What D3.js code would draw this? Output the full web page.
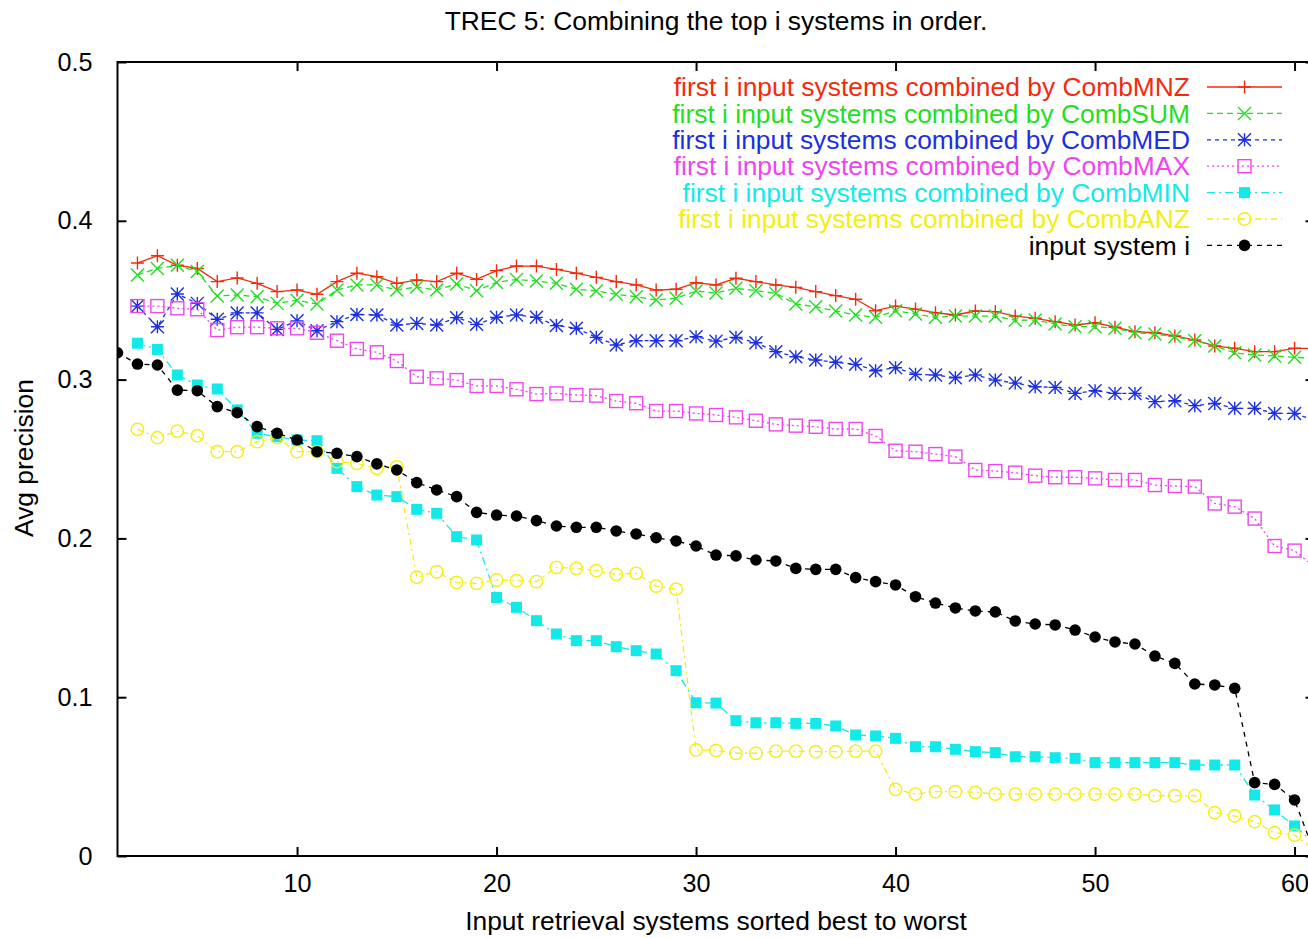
<!DOCTYPE html>
<html>
<head>
<meta charset="utf-8">
<script src="https://cdn.jsdelivr.net/npm/d3@7/dist/d3.min.js"></script>
<style>
  html, body { margin: 0; padding: 0; background: #fff; }
  svg { display: block; }
  text { font-family: "Liberation Sans", Arial, sans-serif; }
</style>
</head>
<body>
<svg id="chart" width="1308" height="938"></svg>
<script>
// ---- data ----
const title = "TREC 5: Combining the top i systems in order.";
const xLabel = "Input retrieval systems sorted best to worst";
const yLabel = "Avg precision";
const xTicks = [10, 20, 30, 40, 50, 60];
const yTicks = [0, 0.1, 0.2, 0.3, 0.4, 0.5];

// combined series start at i = 2, input system series at i = 1
const combStart = 2;
const inputStart = 1;

const combMNZ = [.3734,.378,.372,.370,.3617,.364,.3606,.3554,.3564,.3537,.3617,.367,.3648,.3606,.3627,.3617,.367,.3631,.3686,.3715,.3715,.3694,.367,.3644,.3617,.3596,.3564,.3569,.361,.3596,.3638,.3617,.3596,.3581,.3554,.3529,.3506,.3434,.3463,.3444,.3421,.3407,.3432,.3428,.34,.3386,.3365,.3344,.3358,.333,.3302,.3295,.3275,.3249,.3212,.3197,.3176,.3176,.3197,.3197];
const combSUM = [.3659,.370,.372,.368,.3526,.3533,.3522,.348,.350,.3476,.3564,.3596,.3596,.3564,.3583,.3564,.3602,.356,.3612,.3631,.3621,.3606,.3569,.3558,.3537,.3522,.3501,.3512,.3558,.3545,.3575,.356,.3543,.3476,.3459,.3432,.3407,.3392,.3434,.3413,.3392,.34,.34,.34,.3373,.3375,.335,.3333,.3333,.3323,.3295,.3287,.327,.3245,.3212,.3169,.3155,.3149,.314,.3135];
const combMED = [.3463,.3333,.3539,.348,.338,.342,.342,.3316,.337,.3308,.3365,.341,.3407,.3344,.3354,.3344,.339,.3348,.3392,.3407,.3392,.334,.3323,.3266,.3218,.3245,.3245,.3245,.327,.3242,.3266,.3232,.3176,.3144,.3123,.3109,.3096,.3056,.3075,.3033,.3029,.3012,.3029,.2997,.2978,.2955,.2951,.2913,.293,.2913,.2913,.2861,.2867,.2836,.285,.2819,.2819,.2787,.2787,.2745];
const combMAX = [.3463,.3463,.3449,.3443,.3312,.333,.333,.3323,.3323,.3295,.3245,.3193,.3172,.3117,.3018,.3008,.2997,.296,.296,.2939,.2909,.2913,.2903,.2899,.2865,.2851,.2802,.2802,.2787,.2777,.2762,.2741,.2718,.271,.2703,.2689,.2689,.2645,.2552,.2546,.2531,.2515,.2431,.2424,.2414,.2395,.2385,.2385,.2378,.2368,.2368,.2336,.233,.2326,.222,.22,.2125,.1952,.1923,.182];
const combMIN = [.3229,.319,.3029,.2966,.2941,.2809,.2662,.264,.262,.2615,.2441,.2326,.2273,.2263,.2183,.2158,.2011,.199,.1628,.1566,.1482,.1398,.1356,.1356,.1318,.1293,.1272,.1167,.0965,.0963,.0852,.0839,.0839,.0835,.0835,.0819,.0762,.0756,.0741,.0688,.0688,.0672,.0657,.0651,.0625,.0625,.0619,.0615,.0588,.0588,.0588,.0588,.0588,.0573,.0573,.0573,.0384,.029,.0189,.008];
const combANZ = [.2687,.2634,.2676,.2647,.2546,.2546,.2609,.2634,.2546,.2546,.2483,.2473,.2441,.2451,.1756,.179,.1723,.1717,.1738,.1734,.1728,.1818,.1811,.1797,.1774,.178,.17,.168,.0668,.0665,.0647,.0647,.0661,.0661,.0657,.0657,.0661,.0661,.042,.039,.0405,.0405,.0401,.039,.039,.039,.039,.039,.039,.039,.039,.038,.038,.038,.0273,.0252,.0216,.0147,.0132,.004];
const inputSys = [.3169,.3098,.3092,.2934,.293,.283,.2792,.2704,.2662,.262,.2546,.2536,.2515,.2469,.2431,.2351,.2305,.2263,.2164,.2147,.2141,.2112,.2078,.207,.207,.2047,.2028,.2004,.1984,.1952,.1895,.189,.1864,.1858,.1811,.1805,.1805,.1753,.1728,.1707,.1633,.1593,.1562,.1543,.1537,.148,.1461,.1455,.1423,.1379,.1348,.1335,.1259,.1213,.1083,.1077,.1056,.0462,.0451,.0353,.002];

const seriesNames = [
  "first i input systems combined by CombMNZ",
  "first i input systems combined by CombSUM",
  "first i input systems combined by CombMED",
  "first i input systems combined by CombMAX",
  "first i input systems combined by CombMIN",
  "first i input systems combined by CombANZ",
  "input system i"
];
const seriesValues = [combMNZ, combSUM, combMED, combMAX, combMIN, combANZ, inputSys];
const seriesStart = [combStart, combStart, combStart, combStart, combStart, combStart, inputStart];

// ---- styles ----
const colors = ["#f42a0c", "#1fdf1f", "#1c30e0", "#ee45ee", "#12eaea", "#f4ee12", "#000000"];
const dashes = [null, "6,4", "4,4", "2,3", "8,4,2,4", "6,4,2,4", "5,5"];
const markers = ["plus", "cross", "star", "box", "fbox", "circle", "fcircle"];

// ---- chart ----
const svg = d3.select("#chart");
const W = 1308, H = 938;
const mLeft = 117.5, mRight = 1314.5, mTop = 62, mBottom = 856;
const labelSize = 26.4, tickSize = 25.2;

const x = d3.scaleLinear().domain([1, 61]).range([mLeft, mRight]);
const y = d3.scaleLinear().domain([0, 0.5]).range([mBottom, mTop]);

svg.append("rect").attr("width", W).attr("height", H).attr("fill", "#fff");

svg.append("defs").append("clipPath").attr("id", "plotclip")
  .append("rect").attr("x", mLeft).attr("y", mTop).attr("width", mRight - mLeft).attr("height", mBottom - mTop);

// title and labels
svg.append("text").attr("x", 716).attr("y", 30).attr("text-anchor", "middle")
  .attr("font-size", labelSize).attr("fill", "#000").text(title);
svg.append("text").attr("x", 716).attr("y", 930).attr("text-anchor", "middle")
  .attr("font-size", labelSize).attr("fill", "#000").text(xLabel);
svg.append("text").attr("transform", "translate(33," + 458 + ") rotate(-90)")
  .attr("text-anchor", "middle").attr("font-size", labelSize).attr("fill", "#000").text(yLabel);

// axes (gnuplot style: inward ticks on all sides)
const tickLen = 9;
const axB = d3.axisBottom(x).tickValues(xTicks).tickSizeInner(-tickLen).tickSizeOuter(0).tickPadding(tickLen + 9).tickFormat(d3.format("d"));
const axT = d3.axisTop(x).tickValues(xTicks).tickSizeInner(-tickLen).tickSizeOuter(0).tickFormat("");
const axL = d3.axisLeft(y).tickValues(yTicks).tickSizeInner(-tickLen).tickSizeOuter(0).tickPadding(tickLen + 16).tickFormat(d => d === 0 ? "0" : d3.format(".1f")(d));
const axR = d3.axisRight(y).tickValues(yTicks).tickSizeInner(-tickLen).tickSizeOuter(0).tickFormat("");

function styleAxis(g) {
  g.select(".domain").remove();
  g.selectAll(".tick line").attr("stroke", "#000").attr("stroke-width", 2);
  g.selectAll(".tick text").attr("font-size", tickSize).attr("font-family", "Liberation Sans, Arial, sans-serif").attr("fill", "#000");
}
svg.append("g").attr("transform", `translate(0,${mBottom})`).call(axB).call(styleAxis);
svg.append("g").attr("transform", `translate(0,${mTop})`).call(axT).call(styleAxis);
svg.append("g").attr("transform", `translate(${mLeft},0)`).call(axL).call(styleAxis);
svg.append("g").attr("transform", `translate(${mRight},0)`).call(axR).call(styleAxis);

svg.append("rect").attr("x", mLeft).attr("y", mTop).attr("width", mRight - mLeft).attr("height", mBottom - mTop)
  .attr("fill", "none").attr("stroke", "#000").attr("stroke-width", 2);

// marker drawing
function drawMarker(g, type, color) {
  const s = 6.5;
  if (type === "plus") {
    g.append("path").attr("d", `M${-s},0H${s}M0,${-s}V${s}`).attr("stroke", color).attr("stroke-width", 1.4).attr("fill", "none");
  } else if (type === "cross") {
    g.append("path").attr("d", `M${-s},${-s}L${s},${s}M${-s},${s}L${s},${-s}`).attr("stroke", color).attr("stroke-width", 1.4).attr("fill", "none");
  } else if (type === "star") {
    g.append("path").attr("d", `M${-s},0H${s}M0,${-s}V${s}M${-s},${-s}L${s},${s}M${-s},${s}L${s},${-s}`).attr("stroke", color).attr("stroke-width", 1.4).attr("fill", "none");
  } else if (type === "box") {
    g.append("rect").attr("x", -s).attr("y", -s).attr("width", 2 * s).attr("height", 2 * s).attr("stroke", color).attr("stroke-width", 1.4).attr("fill", "none");
  } else if (type === "fbox") {
    g.append("rect").attr("x", -5.5).attr("y", -5.5).attr("width", 11).attr("height", 11).attr("fill", color);
  } else if (type === "circle") {
    g.append("circle").attr("r", 6.2).attr("stroke", color).attr("stroke-width", 1.4).attr("fill", "none");
  } else if (type === "fcircle") {
    g.append("circle").attr("r", 5.8).attr("fill", color);
  }
}

const plot = svg.append("g").attr("clip-path", "url(#plotclip)");
const line = d3.line().x(d => x(d.i)).y(d => y(d.v));

seriesValues.forEach((vals, k) => {
  const data = vals.map((v, j) => ({ i: seriesStart[k] + j, v }));
  const g = plot.append("g");
  g.append("path").datum(data).attr("d", line).attr("fill", "none")
    .attr("stroke", colors[k]).attr("stroke-width", 1.3)
    .attr("stroke-dasharray", dashes[k]);
  g.selectAll("g.pt").data(data.filter(d => d.i <= 60)).enter().append("g").attr("class", "pt")
    .attr("transform", d => `translate(${x(d.i)},${y(d.v)})`)
    .each(function () { drawMarker(d3.select(this), markers[k], colors[k]); });
});

// legend
const legTextX = 1190, legLine0 = 1207, legLine1 = 1282, legY0 = 87, legDy = 26.4;
seriesNames.forEach((name, k) => {
  const yy = legY0 + k * legDy;
  const g = svg.append("g");
  g.append("text").attr("x", legTextX).attr("y", yy).attr("dy", "0.35em").attr("text-anchor", "end")
    .attr("font-size", labelSize).attr("fill", colors[k]).text(name);
  g.append("line").attr("x1", legLine0).attr("x2", legLine1).attr("y1", yy).attr("y2", yy)
    .attr("stroke", colors[k]).attr("stroke-width", 1.3).attr("stroke-dasharray", dashes[k]);
  const m = g.append("g").attr("transform", `translate(${(legLine0 + legLine1) / 2},${yy})`);
  drawMarker(m, markers[k], colors[k]);
});
</script>
</body>
</html>
